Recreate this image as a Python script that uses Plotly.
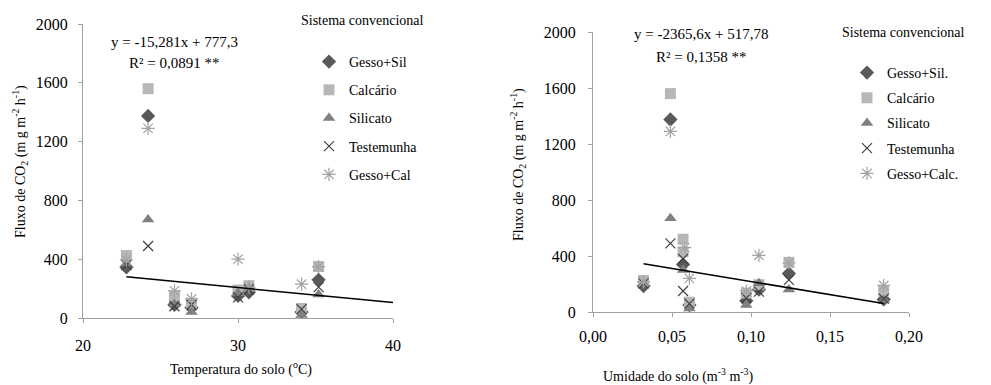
import plotly.graph_objects as go

W, H = 991, 385
FONT = "Liberation Serif, Times New Roman, serif"

# ---------------- data: left panel (temperature) ----------------
temp = [22.8, 24.2, 25.9, 27.0, 30.0, 30.7, 34.1, 35.2]
L_gesso_sil = [345, 1375, 90, 70, 150, 175, 40, 260]
L_calcario = [425, 1560, 150, 100, 190, 220, 65, 350]
L_silicato = [370, 670, 95, 40, 170, 200, 20, 160]
L_testemunha = [360, 490, 80, 90, 140, 195, 60, 210]
L_gesso_cal = [395, 1290, 185, 130, 400, 210, 230, 350]
L_trend_x = [22.8, 40]
L_trend_y = [280, 105]

# ---------------- data: right panel (soil moisture) ----------------
R_gs_x = [0.032, 0.049, 0.057, 0.061, 0.097, 0.105, 0.124, 0.184]
R_gs_y = [185, 1375, 340, 50, 80, 160, 275, 90]
R_ca_x = [0.032, 0.049, 0.057, 0.057, 0.061, 0.097, 0.105, 0.124, 0.184]
R_ca_y = [225, 1560, 520, 430, 70, 135, 195, 355, 150]
R_si_x = [0.032, 0.049, 0.057, 0.061, 0.097, 0.105, 0.124, 0.184]
R_si_y = [200, 670, 300, 25, 50, 205, 160, 85]
R_te_x = [0.032, 0.049, 0.057, 0.057, 0.061, 0.097, 0.105, 0.124, 0.184]
R_te_y = [205, 490, 380, 150, 60, 100, 145, 230, 95]
R_gc_x = [0.032, 0.049, 0.058, 0.061, 0.097, 0.105, 0.124, 0.184]
R_gc_y = [215, 1290, 460, 240, 150, 405, 350, 190]
R_trend_x = [0.032, 0.184]
R_trend_y = [345, 60]

y_ticks = [0, 400, 800, 1200, 1600, 2000]
L_x_ticks = [20, 30, 40]
R_x_ticks = [0.0, 0.05, 0.10, 0.15, 0.20]
R_x_ticktext = ["0,00", "0,05", "0,10", "0,15", "0,20"]

styles = {
    "gs": dict(symbol="diamond", color="#595959", size=11, line=dict(width=0)),
    "ca": dict(symbol="square", color="#b7b7b7", size=11, line=dict(width=0)),
    "si": dict(symbol="triangle-up", color="#808080", size=11, line=dict(width=0)),
    "te": dict(symbol="x-thin-open", color="#404040", size=10, line=dict(width=1.2, color="#404040")),
    "gc": dict(symbol="asterisk-open", color="#a3a3a3", size=11, line=dict(width=1.2, color="#a3a3a3")),
}

fig = go.Figure()

def add(x, y, name, key, xa, ya, leg):
    fig.add_trace(go.Scatter(
        x=x, y=y, mode="markers", name=name, marker=styles[key],
        xaxis=xa, yaxis=ya, legend=leg, legendgroup=leg + name,
        cliponaxis=False,
    ))

add(temp, L_gesso_sil, "Gesso+Sil", "gs", "x", "y", "legend")
add(temp, L_calcario, "Calcário", "ca", "x", "y", "legend")
add(temp, L_silicato, "Silicato", "si", "x", "y", "legend")
add(temp, L_testemunha, "Testemunha", "te", "x", "y", "legend")
add(temp, L_gesso_cal, "Gesso+Cal", "gc", "x", "y", "legend")
fig.add_trace(go.Scatter(x=L_trend_x, y=L_trend_y, mode="lines", line=dict(color="black", width=1.5),
                         xaxis="x", yaxis="y", showlegend=False, cliponaxis=False))

add(R_gs_x, R_gs_y, "Gesso+Sil.", "gs", "x2", "y2", "legend2")
add(R_ca_x, R_ca_y, "Calcário", "ca", "x2", "y2", "legend2")
add(R_si_x, R_si_y, "Silicato", "si", "x2", "y2", "legend2")
add(R_te_x, R_te_y, "Testemunha", "te", "x2", "y2", "legend2")
add(R_gc_x, R_gc_y, "Gesso+Calc.", "gc", "x2", "y2", "legend2")
fig.add_trace(go.Scatter(x=R_trend_x, y=R_trend_y, mode="lines", line=dict(color="black", width=1.5),
                         xaxis="x2", yaxis="y2", showlegend=False, cliponaxis=False))

def px_x(p):
    return p / W

def px_y(p):
    return 1 - p / H

axis_common = dict(showgrid=False, zeroline=False, showline=True, linecolor="#a0a0a0", linewidth=1.2,
                   ticks="outside", ticklen=4, tickcolor="#a0a0a0", automargin=False,
                   tickfont=dict(family=FONT, size=16, color="black"))

fig.update_layout(
    width=W, height=H, margin=dict(l=0, r=0, t=0, b=0, autoexpand=False),
    paper_bgcolor="white", plot_bgcolor="white",
    font=dict(family=FONT, color="black"),
    xaxis=dict(domain=[px_x(83), px_x(393)], range=[20, 40], tickvals=L_x_ticks, anchor="y",
               ticklabelstandoff=9, **axis_common),
    yaxis=dict(domain=[px_y(318), px_y(24)], range=[0, 2000], tickvals=y_ticks, anchor="x",
               ticklabelstandoff=7, **axis_common),
    xaxis2=dict(domain=[px_x(593), px_x(909)], range=[0, 0.2], tickvals=R_x_ticks, ticktext=R_x_ticktext,
                anchor="y2", ticklabelstandoff=6, **axis_common),
    yaxis2=dict(domain=[px_y(312), px_y(32)], range=[0, 2000], tickvals=y_ticks, anchor="x2",
                ticklabelstandoff=9, **axis_common),
    legend=dict(x=px_x(309), y=px_y(46), xanchor="left", yanchor="top", bgcolor="rgba(0,0,0,0)",
                font=dict(family=FONT, size=14, color="black"), tracegroupgap=7, itemwidth=30),
    legend2=dict(x=px_x(847), y=px_y(57), xanchor="left", yanchor="top", bgcolor="rgba(0,0,0,0)",
                 font=dict(family=FONT, size=14, color="black"), tracegroupgap=4, itemwidth=30),
)

ann = []
def text(x, y, t, size=14, angle=0, yanchor="middle"):
    ann.append(dict(x=px_x(x), y=px_y(y), xref="paper", yref="paper", text=t, showarrow=False,
                    textangle=angle, xanchor="center", yanchor=yanchor,
                    font=dict(family=FONT, size=size, color="black")))

text(174, 42, "y = -15,281x + 777,3", 15)
text(174, 63, "R² = 0,0891 **", 15)
text(701, 34, "y = -2365,6x + 517,78", 15)
text(701, 57, "R² = 0,1358 **", 15)
text(362, 20, "Sistema convencional", 14)
text(903, 32, "Sistema convencional", 14)
text(20, 162, "Fluxo de CO<sub>2</sub> (m g m<sup>-2</sup> h<sup>-1</sup>)", 14, -90)
text(518, 165, "Fluxo de CO<sub>2</sub> (m g m<sup>-2</sup> h<sup>-1</sup>)", 14, -90)
text(241, 368, "Temperatura do solo (<sup>o</sup>C)", 14)
text(678, 375, "Umidade do solo (m<sup>-3</sup> m<sup>-3</sup>)", 14)
fig.update_layout(annotations=ann)

fig.write_html("out.html")
